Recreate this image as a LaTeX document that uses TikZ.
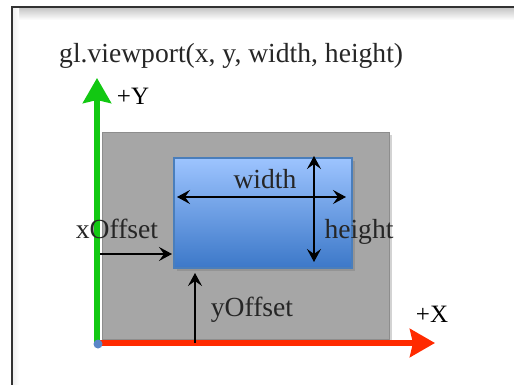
\documentclass[tikz,border=0pt]{standalone}
\usepackage{fontspec}
\setmainfont{Liberation Serif}
\usetikzlibrary{arrows.meta,shadows}
\definecolor{framec}{HTML}{333333}
\definecolor{vpgray}{HTML}{A6A6A6}
\definecolor{bluetop}{HTML}{9DC4FF}
\definecolor{bluebot}{HTML}{3C78C8}
\definecolor{blueedge}{HTML}{4A7EBB}
\definecolor{axgreen}{HTML}{12C812}
\definecolor{axred}{HTML}{FF2A00}
\definecolor{dotblue}{HTML}{5A86C8}
\definecolor{txt}{HTML}{262626}
\tikzset{
  lbl/.style={font=\fontsize{27.6}{30}\selectfont, text=txt, inner sep=0pt, anchor=base},
  axlbl/.style={font=\fontsize{25}{28}\selectfont, text=black, inner sep=0pt, anchor=base},
  dim/.style={line width=1.7pt, black},
  dimtip/.tip={Stealth[length=13pt,width=14pt,inset=5pt]},
  bigtip/.tip={Stealth[length=25pt,width=28pt,inset=3pt]},
}
\begin{document}
\begin{tikzpicture}[x=1pt,y=-1pt]
\useasboundingbox (0,0) rectangle (514,385);
% frame with faint inner shadow
\shade[top color=black!22, bottom color=white] (13,8) rectangle (514,20);
\shade[left color=black!6, right color=white] (13,8) rectangle (19,385);
\draw[framec, line width=2pt] (12,390) -- (12,7) -- (520,7);
% title
\node[lbl, anchor=base west] (title) at (59,63) {gl.viewport(x, y, width, height)};
% viewport area
\node[rectangle, anchor=north west, inner sep=0pt, minimum width=287pt, minimum height=207pt,
      fill=vpgray, draw=vpgray!85!black, line width=0.5pt,
      drop shadow={opacity=0.35, shadow xshift=3pt, shadow yshift=-3pt}] (canvas) at (102,132) {};
% blue viewport
\node[rectangle, anchor=north west, inner sep=0pt, minimum width=178pt, minimum height=110pt,
      top color=bluetop, bottom color=bluebot, draw=blueedge, line width=2pt,
      drop shadow={opacity=0.45, shadow xshift=3pt, shadow yshift=-3pt}] (vp) at (173,157) {};
% axes
\coordinate (ybot) at (97,346);
\coordinate (ytop) at (97,78);
\coordinate (xleft) at (97,343);
\coordinate (xright) at (435,343);
\draw[axgreen, line width=6pt, -{bigtip}] (ybot) -- (ytop);
\draw[axred, line width=6pt, -{bigtip}] (xleft) -- (xright);
\fill[dotblue] (98,344) circle (4.5pt);
\node[axlbl] (ylab) at (133,105) {+Y};
\node[axlbl] (xlab) at (432,322) {+X};
% dimension arrows
\coordinate (wl) at (177,197);
\coordinate (wr) at (346,197);
\draw[dim, {dimtip}-{dimtip}] (wl) -- (wr);
\coordinate (ht) at (314,156);
\coordinate (hb) at (314,262);
\draw[dim, {dimtip}-{dimtip}] (ht) -- (hb);
\node[lbl] (wlab) at (265,189) {width};
\node[lbl] (hlab) at (359,238) {height};
% offsets
\coordinate (xo) at (100,254);
\coordinate (xe) at (172,254);
\draw[dim, -{dimtip}] (xo) -- (xe);
\node[lbl] (xolab) at (117,238) {xOffset};
\coordinate (yo) at (195,343);
\coordinate (ye) at (195,273);
\draw[dim, -{dimtip}] (yo) -- (ye);
\node[lbl] (yolab) at (252,316) {yOffset};
\end{tikzpicture}
\end{document}
